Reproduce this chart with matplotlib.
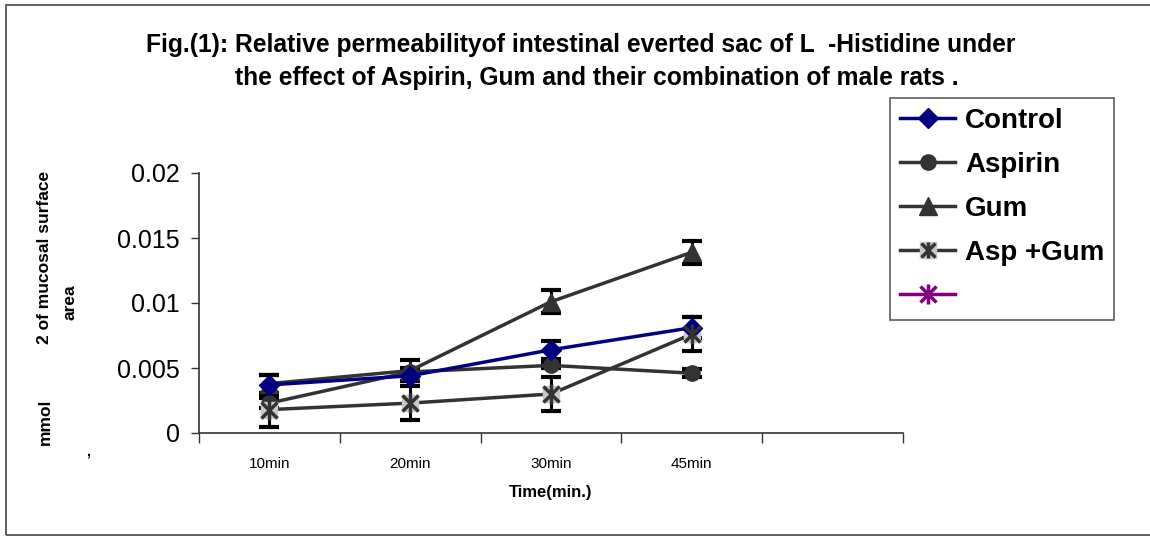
import matplotlib
matplotlib.use('Agg')
import matplotlib.pyplot as plt
from matplotlib.lines import Line2D
from matplotlib.patches import Rectangle
from matplotlib.legend_handler import HandlerTuple

plt.rcParams['font.family'] = ['Liberation Sans', 'DejaVu Sans']

# データ
times = ['10min', '20min', '30min', '45min', '']
control = [0.0037, 0.0044, 0.0064, 0.0081]
control_err = [0.0008, 0.0004, 0.0007, 0.0008]
aspirin = [0.0023, 0.0047, 0.0052, 0.0046]
aspirin_err = [0.0004, 0.0003, 0.0002, 0.0003]
gum = [0.0038, 0.0048, 0.0101, 0.0139]
gum_err = [0.0007, 0.0008, 0.0009, 0.0009]
aspgum = [0.0018, 0.0023, 0.0030, 0.0076]
aspgum_err = [0.0013, 0.0013, 0.0013, 0.0013]
legend_labels = ['Control', 'Aspirin', 'Gum', 'Asp +Gum', '']

navy = '#000080'
dark = '#333333'
purple = '#800080'

fig = plt.figure(figsize=(11.5, 5.36), dpi=100)
fig.patches.append(Rectangle((6 / 1150, 0.002), 1.2, 0.989, transform=fig.transFigure,
                             fill=False, edgecolor='#444444', linewidth=1.2))
ax = fig.add_axes([199 / 1150, 103 / 536, 704 / 1150, 260 / 536])

x = [i + 0.5 for i in range(4)]
eb = dict(fmt='none', ecolor='black', elinewidth=2.2, capsize=7, capthick=3, zorder=2)
ax.errorbar(x, control, yerr=control_err, **eb)
ax.errorbar(x, aspirin, yerr=aspirin_err, **eb)
ax.errorbar(x, gum, yerr=gum_err, **eb)
ax.errorbar(x, aspgum, yerr=aspgum_err, **eb)

ax.plot(x, control, color=navy, lw=2.5, marker='D', ms=10, mfc=navy, mec=navy, zorder=4)
ax.plot(x, aspirin, color=dark, lw=2.5, marker='o', ms=11, mfc=dark, mec=dark, zorder=3)
ax.plot(x, gum, color=dark, lw=2.5, marker='^', ms=13, mfc=dark, mec=dark, zorder=3)
ax.plot(x, aspgum, color=dark, lw=2.5, marker='s', ms=12, mfc='#c8c8c8', mec='#c8c8c8', zorder=3)
ax.plot(x, aspgum, ls='none', marker='x', ms=12, mec=dark, mew=2.5, zorder=5)
ax.plot(x, aspgum, ls='none', marker='|', ms=14, mec=dark, mew=2.5, zorder=5)

ax.set_xlim(0, 5)
ax.set_ylim(0, 0.02)
ax.set_yticks([0, 0.005, 0.01, 0.015, 0.02])
ax.set_yticklabels(['0', '0.005', '0.01', '0.015', '0.02'], fontsize=18)
ax.set_xticks(range(6))
ax.set_xticklabels([])
ax.set_xticks([i + 0.5 for i in range(5)], minor=True)
ax.set_xticklabels(times, minor=True, fontsize=11)
ax.tick_params(axis='x', which='major', length=7, width=1, color='#333333', direction='out')
ax.tick_params(axis='x', which='minor', length=0, pad=17)
ax.tick_params(axis='y', length=6, width=1, color='#333333', pad=8)
for s in ['top', 'right']:
    ax.spines[s].set_visible(False)
for s in ['left', 'bottom']:
    ax.spines[s].set_color('#333333')
    ax.spines[s].set_linewidth(1.2)
ax.set_xlabel('Time(min.)', fontsize=12, fontweight='bold', labelpad=10)

# 縦軸ラベル
ylab = dict(rotation=90, ha='center', va='center', fontsize=12.5, fontweight='bold')
fig.text(45 / 1150, 1 - 422 / 536, 'mmol', **ylab)
fig.text(45 / 1150, 1 - 257 / 536, '2 of mucosal surface', **ylab)
fig.text(70 / 1150, 1 - 302 / 536, 'area', **ylab)
fig.text(88 / 1150, 1 - 452 / 536, ',', fontsize=10, fontweight='bold', ha='center', va='center')

fig.text(581 / 1150, 1 - 45 / 536,
         'Fig.(1): Relative permeabilityof intestinal everted sac of L  -Histidine under',
         ha='center', va='center', fontsize=17.7, fontweight='bold')
fig.text(597 / 1150, 1 - 78 / 536,
         'the effect of Aspirin, Gum and their combination of male rats .',
         ha='center', va='center', fontsize=17.7, fontweight='bold')

# 凡例
handles = [
    Line2D([], [], color=navy, lw=2.5, marker='D', ms=10, mfc=navy, mec=navy),
    Line2D([], [], color=dark, lw=2.5, marker='o', ms=11, mfc=dark, mec=dark),
    Line2D([], [], color=dark, lw=2.5, marker='^', ms=13, mfc=dark, mec=dark),
    (Line2D([], [], color=dark, lw=2.5, marker='s', ms=11, mfc='#c8c8c8', mec='#c8c8c8'),
     Line2D([], [], ls='none', marker='x', ms=10, mec=dark, mew=2.5),
     Line2D([], [], ls='none', marker='|', ms=12, mec=dark, mew=2.5)),
    (Line2D([], [], color=purple, lw=2.5, marker='x', ms=12, mec=purple, mew=2.5),
     Line2D([], [], ls='none', marker='|', ms=14, mec=purple, mew=2.5)),
]
leg = fig.legend(handles, legend_labels, loc='upper left',
                 bbox_to_anchor=(890 / 1150, 1 - 98 / 536), bbox_transform=fig.transFigure,
                 prop={'size': 20, 'weight': 'bold'}, frameon=True, fancybox=False,
                 edgecolor='#333333', handlelength=2.0, labelspacing=0.65,
                 handletextpad=0.35, borderpad=0.35, borderaxespad=0,
                 handler_map={tuple: HandlerTuple(ndivide=1)})
leg.get_frame().set_linewidth(1.2)

fig.savefig('out.png', dpi=100)
